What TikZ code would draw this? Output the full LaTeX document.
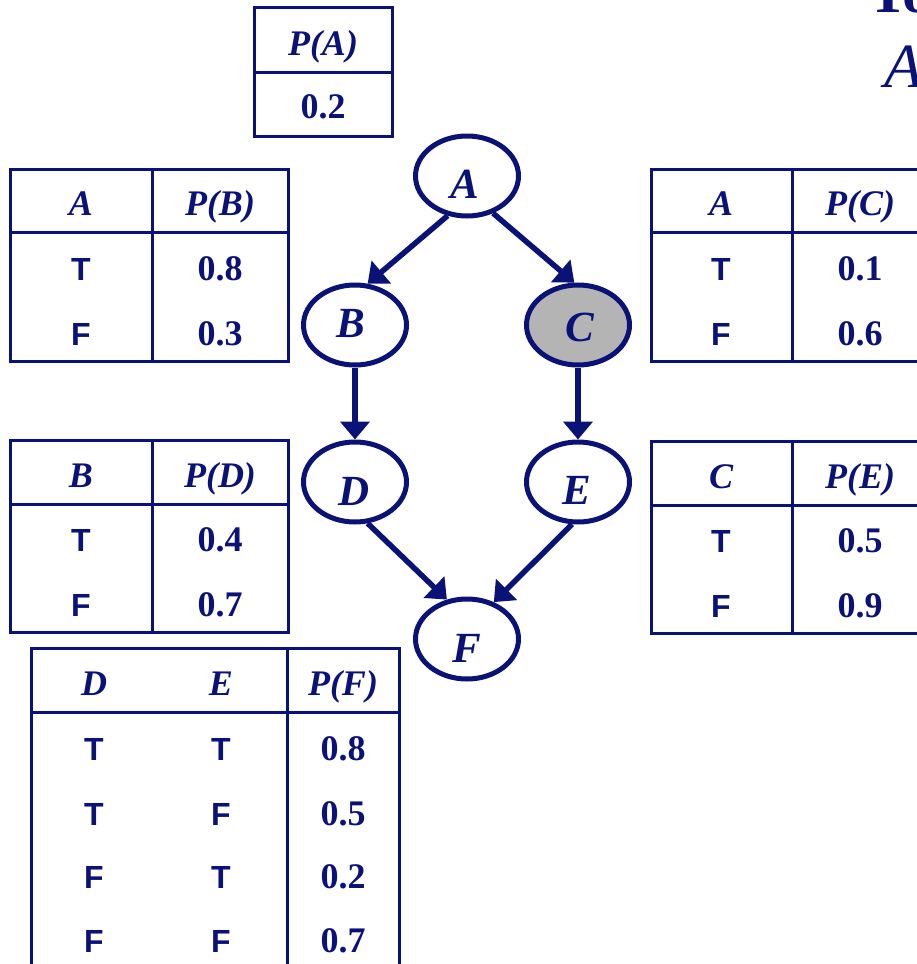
\documentclass[tikz,border=0pt]{standalone}
\usepackage{fontspec}
\setmainfont{Liberation Serif}
\newfontfamily\arialf{Liberation Sans}
\usetikzlibrary{shapes.geometric,arrows.meta}
\definecolor{navy}{RGB}{10,18,120}
\definecolor{shade}{RGB}{180,180,180}
\tikzset{
  tline/.style={draw=navy, line width=3pt},
  hd/.style={font=\fontsize{36}{42}\selectfont\bfseries\itshape, text=navy, anchor=base, inner sep=0pt},
  num/.style={font=\fontsize{36}{42}\selectfont\bfseries, text=navy, anchor=base, inner sep=0pt},
  tf/.style={font=\arialf\fontsize{32}{38}\selectfont\bfseries, text=navy, anchor=base, inner sep=0pt},
  var/.style={ellipse, draw=navy, line width=5pt, minimum width=103pt, minimum height=80pt, inner sep=0pt, fill=white},
  lett/.style={font=\fontsize{43}{49}\selectfont\bfseries\itshape, text=navy, anchor=base, inner sep=0pt},
  arr/.style={draw=navy, line width=5.5pt, -{Triangle[width=29pt,length=18pt]}},
}
\begin{document}
\begin{tikzpicture}[x=1pt,y=-1pt]
\useasboundingbox (0,0) rectangle (917,964);
\clip (0,0) rectangle (917,964);

% title fragments (cut off at top right, as in the reference)
\node[font=\fontsize{60}{66}\selectfont\bfseries, text=navy, anchor=base west, inner sep=0pt] (ttl) at (868,12) {To};
\node[font=\fontsize{63}{70}\selectfont\itshape, text=navy, anchor=base west, inner sep=0pt] (ttlA) at (884,87) {A};

% Table P(A)
\draw[tline] (254,7) rectangle (392,136);
\draw[tline] (254,72) -- (392,72);
\node[hd] (ta1) at (323,55) {P(A)};
\node[num] (ta2) at (323,118) {0.2};

% Table P(B)
\draw[tline] (10,169) rectangle (288,361);
\draw[tline] (10,232) -- (288,232);
\draw[tline] (152,169) -- (152,361);
\node[hd] (tb1) at (81,215) {A};
\node[hd] (tb2) at (220,215) {P(B)};
\node[tf] (tb3) at (81,280) {T};
\node[num] (tb4) at (220,280) {0.8};
\node[tf] (tb5) at (81,345) {F};
\node[num] (tb6) at (220,345) {0.3};

% Table P(C)
\draw[tline] (651,169) rectangle (929,361);
\draw[tline] (651,232) -- (929,232);
\draw[tline] (792,169) -- (792,361);
\node[hd] (tc1) at (721,215) {A};
\node[hd] (tc2) at (860,215) {P(C)};
\node[tf] (tc3) at (721,280) {T};
\node[num] (tc4) at (860,280) {0.1};
\node[tf] (tc5) at (721,345) {F};
\node[num] (tc6) at (860,345) {0.6};

% Table P(D)
\draw[tline] (10,440) rectangle (288,632);
\draw[tline] (10,504) -- (288,504);
\draw[tline] (152,440) -- (152,632);
\node[hd] (td1) at (81,487) {B};
\node[hd] (td2) at (220,487) {P(D)};
\node[tf] (td3) at (81,551) {T};
\node[num] (td4) at (220,551) {0.4};
\node[tf] (td5) at (81,616) {F};
\node[num] (td6) at (220,616) {0.7};

% Table P(E)
\draw[tline] (651,441) rectangle (929,633);
\draw[tline] (651,505) -- (929,505);
\draw[tline] (792,441) -- (792,633);
\node[hd] (te1) at (721,488) {C};
\node[hd] (te2) at (860,488) {P(E)};
\node[tf] (te3) at (721,552) {T};
\node[num] (te4) at (860,552) {0.5};
\node[tf] (te5) at (721,617) {F};
\node[num] (te6) at (860,617) {0.9};

% Table P(F)
\draw[tline] (31,648) rectangle (399,1000);
\draw[tline] (31,712) -- (399,712);
\draw[tline] (287,648) -- (287,1000);
\node[hd] (tf1) at (94,695) {D};
\node[hd] (tf2) at (221,695) {E};
\node[hd] (tf3) at (343,695) {P(F)};
\node[tf] (tf4) at (94,760) {T};
\node[tf] (tf5) at (221,760) {T};
\node[num] (tf6) at (343,760) {0.8};
\node[tf] (tf7) at (94,825) {T};
\node[tf] (tf8) at (221,825) {F};
\node[num] (tf9) at (343,825) {0.5};
\node[tf] (tf10) at (94,888) {F};
\node[tf] (tf11) at (221,888) {T};
\node[num] (tf12) at (343,888) {0.2};
\node[tf] (tf13) at (94,952) {F};
\node[tf] (tf14) at (221,952) {F};
\node[num] (tf15) at (343,952) {0.7};

% Network nodes
\node[var] (A) at (467,176) {};
\node[var] (B) at (355,325) {};
\node[var, fill=shade] (C) at (578,325) {};
\node[var] (D) at (355,482) {};
\node[var] (E) at (578,482) {};
\node[var] (F) at (467,639) {};

\node[lett] (At) at (465,198) {A};
\node[lett] (Bt) at (351,337) {B};
\node[lett] (Ct) at (580,341) {C};
\node[lett] (Dt) at (354,505) {D};
\node[lett] (Et) at (577,504) {E};
\node[lett] (Ft) at (467,662) {F};

% Edges
\draw[arr] (A.244) -- (B.73);
\draw[arr] (A.305) -- (C.95);
\draw[arr] (B.south) -- (D.north);
\draw[arr] (C.south) -- (E.north);
\draw[arr] (D.287) -- (F.117);
\draw[arr] (E.262) -- (F.54);
\end{tikzpicture}
\end{document}
